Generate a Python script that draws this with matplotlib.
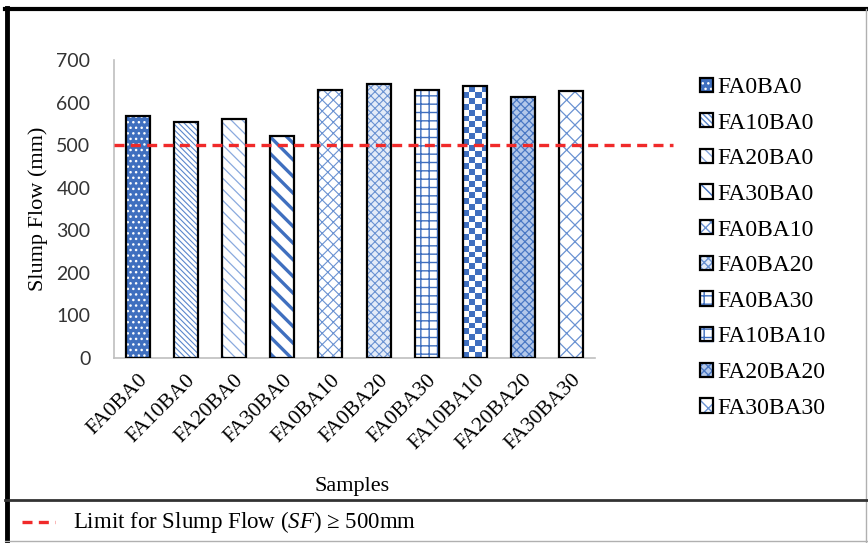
import numpy as np
import matplotlib
matplotlib.use("Agg")
import matplotlib.pyplot as plt
from matplotlib.lines import Line2D
from matplotlib.patches import Patch
from matplotlib.legend_handler import HandlerTuple

plt.rcParams['font.family'] = ['Liberation Serif', 'DejaVu Serif']
plt.rcParams['mathtext.fontset'] = 'custom'
plt.rcParams['mathtext.rm'] = 'Liberation Serif'
plt.rcParams['mathtext.it'] = 'Liberation Serif:italic'
plt.rcParams['hatch.linewidth'] = 1.0

samples = ['FA0BA0', 'FA10BA0', 'FA20BA0', 'FA30BA0', 'FA0BA10',
           'FA0BA20', 'FA0BA30', 'FA10BA10', 'FA20BA20', 'FA30BA30']
slump_flow = [568, 555, 561, 522, 629, 643, 629, 638, 612, 627]
sf_limit = 500
yticks = [0, 100, 200, 300, 400, 500, 600, 700]

blue = '#3f6fbf'
# fill colour, hatch colour, hatch pattern, hatch width for every mix
styles = [
    (blue, 'white', '...', 1.0),
    ('white', '#5a86cc', '\\\\\\\\\\\\', 0.8),
    ('white', '#8aaade', '\\\\\\', 0.9),
    ('white', blue, '\\\\', 2.4),
    ('white', '#6a92d2', 'xxx', 0.8),
    ('#e3ebf8', '#6a92d2', 'xxxx', 0.8),
    ('white', blue, '++', 1.0),
    ('white', blue, None, 1.0),   # checkerboard, drawn below
    ('#b3c8ea', '#4a78c4', 'xxxx', 0.9),
    ('white', '#6a92d2', 'xx', 0.9),
]

fig = plt.figure(figsize=(8.68, 5.43), dpi=100)
ax = fig.add_axes([114 / 868, 1 - 358 / 543, 481 / 868, 298 / 543])

x = np.arange(len(samples))
width = 0.5
handles = []
for i, (val, (fc, hc, hatch, hlw)) in enumerate(zip(slump_flow, styles)):
    face = ax.bar(x[i], val, width, color=fc, edgecolor='none', zorder=2)[0]
    parts = [face]
    if hatch:
        hp = ax.bar(x[i], val, width, color='none', edgecolor=hc,
                    hatch=hatch, linewidth=0, zorder=3)[0]
        if hasattr(hp, 'set_hatch_linewidth'):
            hp.set_hatch_linewidth(hlw)
        parts.append(hp)
    else:
        # blue/white checker pattern clipped to the bar
        nr, nc = 46, 4
        checker = (np.add.outer(np.arange(nr), np.arange(nc)) % 2).astype(float)
        im = ax.imshow(checker, cmap=matplotlib.colors.ListedColormap(['white', blue]),
                       extent=(x[i] - width / 2, x[i] + width / 2, 0, val),
                       aspect='auto', interpolation='nearest', zorder=3)
        im.set_clip_path(face)
        parts.append(Patch(facecolor='white', edgecolor=blue, hatch='++'))
    edge = ax.bar(x[i], val, width, color='none', edgecolor='black',
                  linewidth=1.6, zorder=4)[0]
    parts.append(edge)
    handles.append(tuple(parts))

ax.set_xlim(-0.5, len(samples) - 0.5)
ax.set_ylim(0, 700)
ax.set_yticks(yticks)
ax.set_yticklabels([str(t) for t in yticks], family=['Lato', 'DejaVu Sans'],
                   fontsize=14, color='#333333')
ax.set_xticks(x)
ax.set_xticklabels(samples, rotation=45, ha='right', rotation_mode='anchor',
                   fontsize=15.5)
ax.tick_params(axis='both', length=0)
ax.tick_params(axis='y', pad=17)
ax.tick_params(axis='x', pad=9)
for side in ['top', 'right']:
    ax.spines[side].set_visible(False)
ax.spines['left'].set_color('#bfbfbf')
ax.spines['bottom'].set_color('#bfbfbf')
ax.spines['left'].set_linewidth(1.2)
ax.spines['bottom'].set_linewidth(1.2)

# SF limit, running past the plot area
trans = matplotlib.transforms.blended_transform_factory(ax.transAxes, ax.transData)
ax.plot([0, (673 - 114) / 481], [sf_limit, sf_limit], transform=trans,
        color='#f02a2a', linewidth=2.4, dashes=(3, 1.9), clip_on=False, zorder=5)

fig.text(38 / 868, 1 - 209 / 543, 'Slump Flow (mm)', rotation=90,
         ha='center', va='center', fontsize=16)
fig.text(352 / 868, 1 - 487 / 543, 'Samples', ha='center', va='center',
         fontsize=16)

ax.legend(handles, samples, handler_map={tuple: HandlerTuple(ndivide=1)},
          loc='upper left', bbox_to_anchor=(700 / 868, 1 - 77 / 543),
          bbox_transform=fig.transFigure, frameon=False, fontsize=17,
          handlelength=0.55, handleheight=0.55, handletextpad=0.2,
          labelspacing=0.62, borderpad=0, borderaxespad=0)

# outer frame and the bottom key box
fig.add_artist(Line2D([5 / 868, 1], [1 - 9 / 543] * 2, color='black', lw=3))
fig.add_artist(Line2D([7 / 868] * 2, [0, 1 - 8 / 543], color='black', lw=3.5))
fig.add_artist(Line2D([866 / 868] * 2, [0, 1 - 9 / 543], color='#b0b0b0', lw=1))
fig.add_artist(Line2D([5 / 868, 1], [2 / 543] * 2, color='#b0b0b0', lw=1))
fig.add_artist(Line2D([5 / 868, 1], [1 - 500 / 543] * 2, color='#333333', lw=2))
fig.add_artist(Line2D([22 / 868, 55 / 868], [1 - 522 / 543] * 2,
                      color='#f02a2a', lw=2.4, dashes=(3, 1.9)))
fig.text(73 / 868, 1 - 522 / 543,
         r'Limit for Slump Flow ($\mathit{SF}$) ≥ 500mm',
         ha='left', va='center', fontsize=16.5)

fig.savefig('out.png', dpi=100)
